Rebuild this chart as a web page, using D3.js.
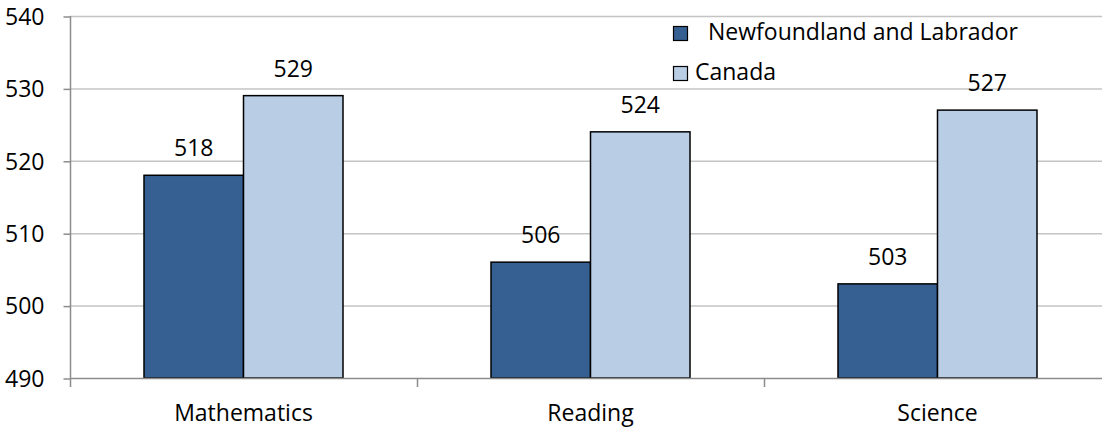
<!DOCTYPE html>
<html>
<head>
<meta charset="utf-8">
<script src="https://cdn.jsdelivr.net/npm/d3@7"></script>
<style>
body { margin:0; background:#fff; }
text { font-family: "Open Sans", sans-serif; fill:#000; }
</style>
</head>
<body>
<script>
var subjects = ["Mathematics", "Reading", "Science"];
var seriesNames = ["Newfoundland and Labrador", "Canada"];
var nlScores = [518, 506, 503];
var canScores = [529, 524, 527];
var yTicks = [490, 500, 510, 520, 530, 540];
var colors = ["#376092", "#b9cde5"];

var W = 1102, H = 429;
var fs = 23;

var svg = d3.select("body").append("svg")
  .attr("width", W).attr("height", H);

var x = d3.scaleBand().domain(subjects).range([70, 1111]).padding(0);
var y = d3.scaleLinear().domain([490, 540]).range([378, 16]);
var barW = 99.5;
var x1 = d3.scaleBand().domain(seriesNames)
  .range([x.bandwidth()/2 - barW, x.bandwidth()/2 + barW]);

// gridlines
svg.append("g").selectAll("line").data(yTicks.slice(1)).enter().append("line")
  .attr("x1", 70).attr("x2", W)
  .attr("y1", function(d){ return y(d)+0.5; })
  .attr("y2", function(d){ return y(d)+0.5; })
  .attr("stroke", "#c4c4c4").attr("stroke-width", 1.5);

// y axis
var yAxis = svg.append("g").attr("transform", "translate(70.5,0)")
  .call(d3.axisLeft(y).tickValues(yTicks).tickSize(7).tickPadding(19));
yAxis.select(".domain").attr("stroke", "#8c8c8c").attr("stroke-width", 1.5)
  .attr("d", "M0,16V387");
yAxis.selectAll(".tick line").attr("stroke", "#8c8c8c").attr("stroke-width", 1.5)
  .attr("transform", "translate(0,0.5)");
yAxis.selectAll(".tick text").attr("font-size", fs).attr("font-family", "Open Sans")
  .attr("dy", "0.36em");

var rows = subjects.map(function(s, i){
  return {subject: s, vals: [nlScores[i], canScores[i]]};
});

// bars
var groups = svg.append("g").selectAll("g").data(rows).enter().append("g")
  .attr("transform", function(d){ return "translate(" + x(d.subject) + ",0)"; });

groups.selectAll("rect").data(function(d){
    return d.vals.map(function(v, j){ return {name: seriesNames[j], v: v, j: j}; });
  }).enter().append("rect")
  .attr("x", function(d){ return x1(d.name); })
  .attr("width", x1.bandwidth())
  .attr("y", function(d){ return y(d.v); })
  .attr("height", function(d){ return y(490) - y(d.v); })
  .attr("fill", function(d){ return colors[d.j]; })
  .attr("stroke", "#000").attr("stroke-width", 1.5);

groups.selectAll(".val").data(function(d){
    return d.vals.map(function(v, j){ return {name: seriesNames[j], v: v}; });
  }).enter().append("text").attr("class", "val")
  .attr("x", function(d){ return x1(d.name) + x1.bandwidth()/2; })
  .attr("y", function(d){ return y(d.v) - 19; })
  .attr("text-anchor", "middle").attr("font-size", fs)
  .text(function(d){ return d.v; });

// x axis
var xAxis = svg.append("g").attr("transform", "translate(0,378.5)")
  .call(d3.axisBottom(x).tickSize(0));
xAxis.select(".domain").attr("stroke", "#8c8c8c").attr("stroke-width", 1.5)
  .attr("d", "M70,0H" + W);
xAxis.selectAll(".tick text").attr("font-size", fs).attr("font-family", "Open Sans")
  .attr("y", 42).attr("dy", null);
svg.append("g").selectAll("line").data(subjects.slice(1)).enter().append("line")
  .attr("x1", function(d){ return x(d) + 0.5; })
  .attr("x2", function(d){ return x(d) + 0.5; })
  .attr("y1", 378).attr("y2", 387)
  .attr("stroke", "#8c8c8c").attr("stroke-width", 1.5);

// legend
var leg = svg.append("g");
var legY = [26, 66];
var legTextX = [708, 695];
seriesNames.forEach(function(n, i){
  leg.append("rect").attr("x", 673.5).attr("y", legY[i] + 0.5)
    .attr("width", 14).attr("height", 14)
    .attr("fill", colors[i]).attr("stroke", "#000").attr("stroke-width", 1.2);
  leg.append("text").attr("x", legTextX[i]).attr("y", legY[i] + 14)
    .attr("font-size", fs).text(n);
});
</script>
</body>
</html>
